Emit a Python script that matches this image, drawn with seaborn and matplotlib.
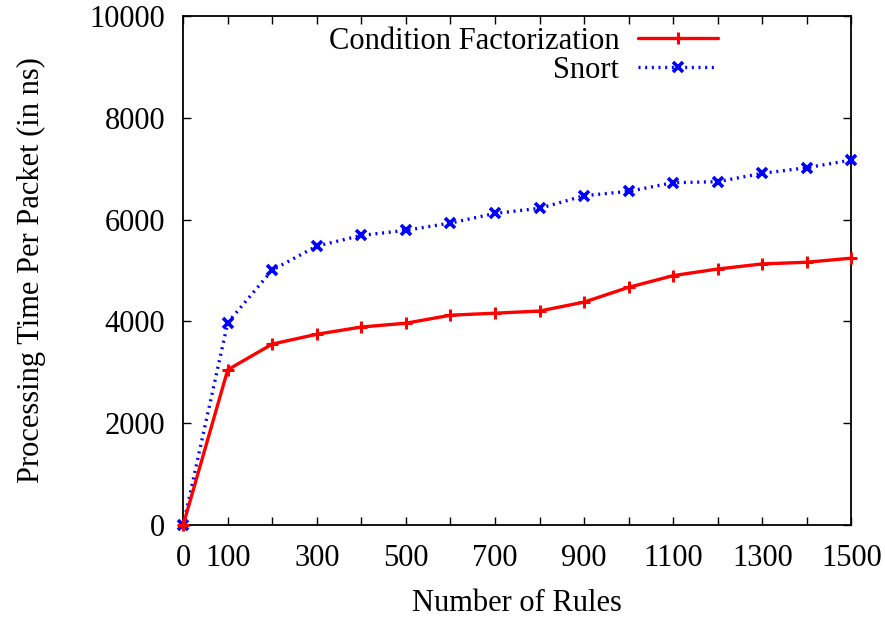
import numpy as np
import pandas as pd
import matplotlib
matplotlib.use("Agg")
import matplotlib.pyplot as plt
import seaborn as sns

rules = [0, 100, 200, 300, 400, 500, 600, 700, 800, 900, 1000, 1100, 1200, 1300, 1400, 1500]
cond_fact = [0, 3050, 3555, 3748, 3890, 3965, 4122, 4162, 4204, 4380, 4670, 4900, 5030, 5130, 5163, 5243]
snort = [0, 3975, 5010, 5480, 5690, 5790, 5933, 6123, 6222, 6470, 6556, 6726, 6745, 6910, 7020, 7171]
xtick_labels = ["0", "100", "", "300", "", "500", "", "700", "", "900", "", "1100", "", "1300", "", "1500"]

sns.set_style("ticks")
plt.rcParams['font.family'] = ['Liberation Serif', 'DejaVu Serif']
plt.rcParams['text.color'] = 'black'
plt.rcParams['axes.labelcolor'] = 'black'

fig = plt.figure(figsize=(8.85, 6.18), dpi=100)
ax = fig.add_axes([0.207, 0.1505, 0.755, 0.8235])

sns.lineplot(x=rules, y=cond_fact, ax=ax, color='#ff0000', linewidth=2.4,
             marker='+', markersize=9, markeredgewidth=2.2,
             markeredgecolor='#ff0000', label='Condition Factorization',
             clip_on=False, zorder=4)
sns.lineplot(x=rules, y=snort, ax=ax, color='#0000ff', linewidth=2.4,
             linestyle=(0, (0.6, 1.4)), marker='x', markersize=7,
             markeredgewidth=2.6, markeredgecolor='#0000ff', label='Snort',
             clip_on=False, zorder=3)

ax.set_xlim(0, 1500)
ax.set_ylim(0, 10000)
ax.set_xticks(rules)
ax.set_xticklabels(xtick_labels)
ax.set_yticks(range(0, 10001, 2000))
ax.tick_params(direction='in', length=6, width=1, top=True, right=True,
               labelsize=22, colors='black')
ax.tick_params(axis='x', pad=14)
ax.tick_params(axis='y', pad=13)
for s in ax.spines.values():
    s.set_linewidth(1.3)
    s.set_color('black')

ax.set_xlabel('Number of Rules', fontsize=22, labelpad=11)
ax.set_ylabel('Processing Time Per Packet (in ns)', fontsize=22, labelpad=31)

ax.legend(loc='upper right', bbox_to_anchor=(0.841, 1.033), frameon=False,
          markerfirst=False, fontsize=22, handlelength=2.6,
          labelspacing=0.0, handletextpad=0.62)

fig.savefig('out.png', dpi=100)
